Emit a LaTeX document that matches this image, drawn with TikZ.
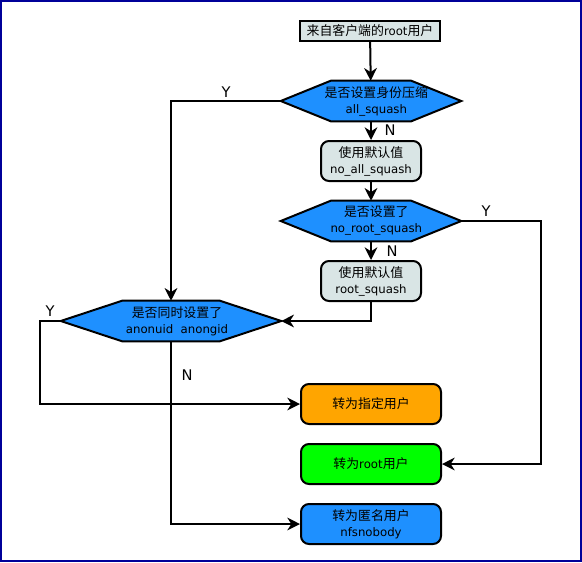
\documentclass[tikz,border=0pt]{standalone}
\usepackage{fontspec}
\setmainfont{DejaVu Sans}
\newfontfamily\cjk[Scale=1.1]{Noto Sans CJK SC}
\usetikzlibrary{arrows.meta, backgrounds}

\definecolor{boxgray}{RGB}{217,229,229}
\definecolor{askblue}{RGB}{30,144,255}
\definecolor{userorange}{RGB}{255,165,0}
\definecolor{usergreen}{RGB}{0,255,0}
\definecolor{framenavy}{RGB}{0,0,153}

\tikzset{
  txt/.style={font=\fontsize{8.8}{12}\selectfont, align=center, inner sep=0.75pt},
  startbox/.style={txt, draw, line width=1.5pt, fill=boxgray, minimum width=105pt, minimum height=15pt},
  defbox/.style={txt, draw, line width=1.5pt, fill=boxgray, rounded corners=6pt, minimum width=75pt, minimum height=30pt},
  userbox/.style={txt, draw, line width=1.5pt, rounded corners=6pt, minimum width=105pt, minimum height=30pt},
  asknode/.style={txt, inner sep=0pt, minimum height=30pt},
  hexline/.style={draw, line width=1.5pt, fill=askblue},
  conn/.style={line width=1.5pt, -{Stealth[length=9.5pt,width=9.5pt,inset=3pt]}},
  yn/.style={font=\fontsize{11}{13}\selectfont, inner sep=0pt}
}

\begin{document}
\begin{tikzpicture}[x=0.75pt,y=0.75pt,yscale=-1,xscale=1]
\useasboundingbox (0,0) rectangle (582,562);
% frame
\draw [framenavy, line width=1.5pt] (1,1) rectangle (581,561);

% Nodes
\node [startbox] (start) at (370,31) {{\cjk 来自客户端的}root{\cjk 用户}};
\node [asknode, minimum width=135pt] (q1) at (371,101) {\hspace*{8pt}{\cjk 是否设置身份压缩}\\\hspace*{8pt}all\_squash};
\node [defbox] (d1) at (371,161) {{\cjk 使用默认值}\\no\_all\_squash};
\node [asknode, minimum width=135pt] (q2) at (371,221) {\hspace*{8pt}{\cjk 是否设置了}\\\hspace*{8pt}no\_root\_squash};
\node [defbox] (d2) at (371,281) {{\cjk 使用默认值}\\root\_squash};
\node [asknode, minimum width=165pt] (q3) at (171,321) {\hspace*{9pt}{\cjk 是否同时设置了}\\\hspace*{9pt}anonuid\ \ anongid};
\node [userbox, fill=userorange] (r1) at (371,404) {{\cjk 转为指定用户}};
\node [userbox, fill=usergreen] (r2) at (371,464) {{\cjk 转为}root{\cjk 用户}};
\node [userbox, fill=askblue] (r3) at (371,524) {{\cjk 转为匿名用户}\\nfsnobody};

% hexagons behind the question texts
\begin{scope}[on background layer]
\draw [hexline] (q1.west) -- ([xshift=37.5pt]q1.north west) -- ([xshift=-37.5pt]q1.north east) -- (q1.east) -- ([xshift=-37.5pt]q1.south east) -- ([xshift=37.5pt]q1.south west) -- cycle;
\draw [hexline] (q2.west) -- ([xshift=37.5pt]q2.north west) -- ([xshift=-37.5pt]q2.north east) -- (q2.east) -- ([xshift=-37.5pt]q2.south east) -- ([xshift=37.5pt]q2.south west) -- cycle;
\draw [hexline] (q3.west) -- ([xshift=46pt]q3.north west) -- ([xshift=-46pt]q3.north east) -- (q3.east) -- ([xshift=-46pt]q3.south east) -- ([xshift=46pt]q3.south west) -- cycle;
\end{scope}

% bend points
\coordinate (c2) at (541,221);
\coordinate (c3) at (40,321);

% Connectors
\draw [conn] (start) -- (q1);
\draw [conn] (q1) -- (d1);
\draw [conn] (d1) -- (q2);
\draw [conn] (q2) -- (d2);
\draw [conn] (d2.south) |- (q3.east);
\draw [conn] (q1.west) -| (q3.north);
\draw [conn] (q2.east) -- (c2) |- (r2.east);
\draw [conn] (q3.west) -- (c3) |- (r1.west);
\draw [conn] (q3.south) |- (r3.west);

% Labels
\node [yn] (y1) at (226,92) {Y};
\node [yn] (n1) at (390,130) {N};
\node [yn] (y2) at (486,211) {Y};
\node [yn] (n2) at (392,251) {N};
\node [yn] (y3) at (50,311) {Y};
\node [yn] (n3) at (187,375) {N};

\end{tikzpicture}
\end{document}
